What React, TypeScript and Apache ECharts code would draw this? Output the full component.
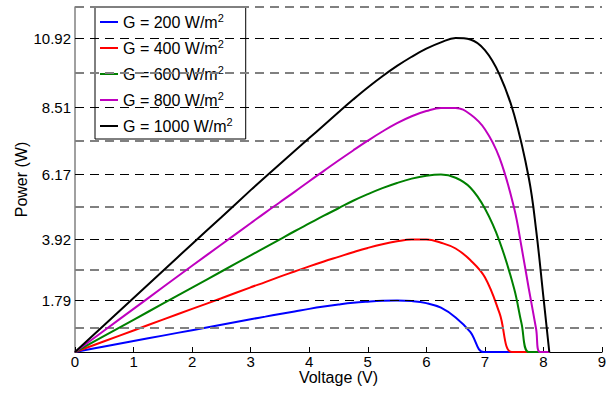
import React, { useEffect, useRef } from "react";
import * as echarts from "echarts";

// Irradiance levels (legend) and colours
const irradiance = [200, 400, 600, 800, 1000];
const colors = ["#0000ff", "#ff0000", "#008000", "#bf00bf", "#000000"];

// P–V curves: [voltage (V), power (W)]
const g200: number[][] = [
  [0, 0], [0.5, 0.19], [1, 0.38], [1.5, 0.57], [2, 0.76], [2.5, 0.95], [3, 1.14], [3.25, 1.23],
  [3.5, 1.32], [3.75, 1.41], [4, 1.5], [4.25, 1.58], [4.5, 1.65], [4.75, 1.71], [5, 1.75],
  [5.25, 1.78], [5.5, 1.79], [5.75, 1.77], [6, 1.7], [6.25, 1.54], [6.5, 1.2], [6.75, 0.7],
  [6.98, 0], [7.25, 0], [7.5, 0], [7.75, 0], [8, 0], [8.1, 0],
];
const g400: number[][] = [
  [0, 0], [0.5, 0.375], [1, 0.75], [1.5, 1.125], [2, 1.5], [2.5, 1.87], [3, 2.25], [3.25, 2.43],
  [3.5, 2.62], [3.75, 2.8], [4, 2.98], [4.25, 3.15], [4.5, 3.31], [4.75, 3.47], [5, 3.62],
  [5.25, 3.75], [5.5, 3.85], [5.75, 3.91], [6, 3.91], [6.25, 3.8], [6.5, 3.6], [6.75, 3.2],
  [7, 2.6], [7.25, 1.35], [7.46, 0], [7.75, 0], [8, 0], [8.1, 0],
];
const g600: number[][] = [
  [0, 0], [0.5, 0.56], [1, 1.12], [1.5, 1.68], [2, 2.24], [2.5, 2.8], [3, 3.36], [3.25, 3.64],
  [3.5, 3.92], [3.75, 4.2], [4, 4.47], [4.25, 4.74], [4.5, 5.0], [4.75, 5.26], [5, 5.49],
  [5.25, 5.7], [5.5, 5.88], [5.75, 6.03], [6, 6.13], [6.25, 6.17], [6.5, 6.06], [6.75, 5.72],
  [7, 4.99], [7.25, 3.85], [7.5, 2.2], [7.625, 1.0], [7.75, 0], [8, 0], [8.1, 0],
];
const g800: number[][] = [
  [0, 0], [0.5, 0.75], [1, 1.5], [1.5, 2.25], [2, 3.0], [2.5, 3.74], [3, 4.48], [3.25, 4.85],
  [3.5, 5.21], [3.75, 5.57], [4, 5.94], [4.25, 6.3], [4.5, 6.66], [4.75, 7.01], [5, 7.35],
  [5.25, 7.67], [5.5, 7.96], [5.75, 8.2], [6, 8.38], [6.25, 8.49], [6.5, 8.49], [6.75, 8.27],
  [7, 7.75], [7.25, 6.75], [7.5, 5.0], [7.625, 3.66], [7.75, 2.2], [7.875, 0.8], [7.94, 0],
  [8.1, 0],
];
const g1000: number[][] = [
  [0, 0], [0.5, 0.94], [1, 1.88], [1.5, 2.82], [2, 3.76], [2.5, 4.69], [3, 5.63], [3.25, 6.09],
  [3.5, 6.54], [3.75, 6.99], [4, 7.44], [4.25, 7.89], [4.5, 8.34], [4.75, 8.78], [5, 9.2],
  [5.25, 9.59], [5.5, 9.95], [5.75, 10.27], [6, 10.55], [6.25, 10.77], [6.5, 10.92],
  [6.75, 10.87], [7, 10.5], [7.25, 9.65], [7.5, 8.25], [7.75, 6.05], [7.875, 4.25],
  [8, 1.9], [8.1, 0],
];
const curves = [g200, g400, g600, g800, g1000];

// Y ticks: labelled (black dashed grid) and unlabelled (grey dashed grid)
const labelledTicks = [1.79, 3.92, 6.17, 8.51, 10.92];
const midTicks = [0.85, 2.86, 5.05, 7.34, 9.72, 12];

const FONT = "'Liberation Sans', Arial, Helvetica, sans-serif";

export default function App() {
  const ref = useRef<HTMLDivElement>(null);
  useEffect(() => {
    if (!ref.current) return;
    const chart = echarts.init(ref.current, null, { renderer: "svg" });
    const names = irradiance.map((g) => `G = ${g} W/m2`);
    const gridLines = [
      ...labelledTicks.map((v) => ({
        yAxis: v,
        lineStyle: { color: "#000000", width: 1, type: [9, 6] as any },
      })),
      ...midTicks.map((v) => ({
        yAxis: v,
        lineStyle: { color: "#808080", width: 2, type: [9, 6] as any },
      })),
    ];
    chart.setOption({
      animation: false,
      backgroundColor: "#ffffff",
      grid: { left: 75, right: 11, top: 7, bottom: 42, containLabel: false },
      legend: {
        data: names,
        orient: "vertical",
        left: 95,
        top: 7,
        padding: [5, 13, 3, 5],
        itemGap: 6,
        itemWidth: 18,
        itemHeight: 2,
        icon: "rect",
        backgroundColor: "#ffffff",
        borderColor: "#000000",
        borderWidth: 1,
        formatter: (name: string) => `${name.slice(0, -1)}{sup|2}`,
        textStyle: {
          fontFamily: FONT,
          fontSize: 16,
          color: "#000000",
          lineHeight: 20,
          rich: {
            sup: { fontFamily: FONT, fontSize: 11, lineHeight: 12, verticalAlign: "top", color: "#000000" },
          },
        },
      },
      xAxis: {
        type: "value",
        min: 0,
        max: 9,
        interval: 1,
        name: "Voltage (V)",
        nameLocation: "middle",
        nameGap: 17,
        nameMoveOverlap: false,
        nameTextStyle: { fontFamily: FONT, fontSize: 16, color: "#000000" },
        axisLine: { show: true, onZero: false, lineStyle: { color: "#000000", width: 1 } },
        axisTick: { show: true, inside: true, length: 5, lineStyle: { color: "#000000" } },
        axisLabel: { fontFamily: FONT, fontSize: 15, color: "#000000", margin: 2 },
        splitLine: { show: false },
      },
      yAxis: {
        type: "value",
        min: 0,
        max: 12,
        name: "Power (W)",
        nameLocation: "middle",
        nameGap: 46,
        nameMoveOverlap: false,
        nameTextStyle: { fontFamily: FONT, fontSize: 16, color: "#000000" },
        axisLine: { show: true, onZero: false, lineStyle: { color: "#808080", width: 1.5 } },
        axisTick: {
          show: true,
          inside: true,
          length: 6,
          customValues: [...labelledTicks, ...midTicks],
          lineStyle: { color: "#333333" },
        },
        axisLabel: {
          fontFamily: FONT,
          fontSize: 15,
          color: "#000000",
          margin: 4,
          customValues: labelledTicks,
          formatter: (v: number) => v.toFixed(2),
        },
        splitLine: { show: false },
      },
      series: [
        {
          name: "grid",
          type: "line",
          data: [],
          silent: true,
          markLine: {
            silent: true,
            symbol: ["none", "none"],
            label: { show: false },
            emphasis: { disabled: true },
            data: gridLines,
          },
        },
        ...curves.map((c, i) => ({
          name: names[i],
          type: "line",
          data: c,
          showSymbol: false,
          smooth: 0.4,
          color: colors[i],
          lineStyle: { color: colors[i], width: 2 },
          emphasis: { disabled: true },
          z: 3 + i,
        })),
      ],
    });
    return () => chart.dispose();
  }, []);
  return (
    <div
      ref={ref}
      style={{ position: "fixed", left: 0, top: 0, width: 613, height: 394, background: "#ffffff" }}
    />
  );
}
